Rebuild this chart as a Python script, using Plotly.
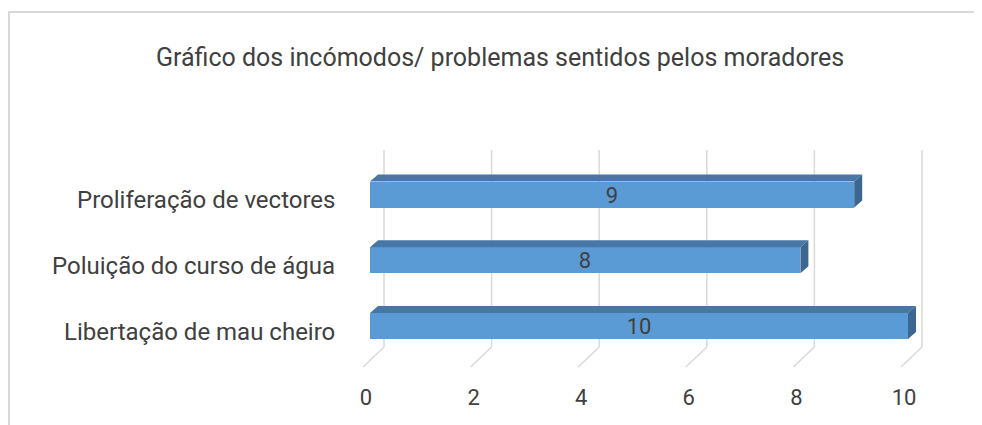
import plotly.graph_objects as go

# ---- data ----
categories = ["Libertação de mau cheiro", "Poluição do curso de água", "Proliferação de vectores"]
values = [10, 8, 9]
x_ticks = [0, 2, 4, 6, 8, 10]
title_text = "Gráfico dos incómodos/ problemas sentidos pelos moradores"

# ---- geometry / style ----
W, H = 982, 425
OFF = 8  # page body margin in browser
FONT = "Roboto"
TXT = "#404040"
GRID = "#d9d9d9"
FRONT = "#5b9bd5"
TOP = "#4677a6"
SIDE = "#3c6792"

px_per_unit_x = 53.8
x0_px = 370 - OFF
dom_x = (300 - OFF, 950 - OFF)
xr = [(dom_x[0] - x0_px) / px_per_unit_x, (dom_x[1] - x0_px) / px_per_unit_x]

px_per_cat = 65.75
c0_py = 326 - OFF
dom_y = (140 - OFF, 382 - OFF)  # top, bottom in px
yr = [(c0_py - dom_y[1]) / px_per_cat, (c0_py - dom_y[0]) / px_per_cat]

bar_w = 26 / px_per_cat
dx = 8 / px_per_unit_x
dy = 7 / px_per_cat

def py2paper(py):
    return 1 - (py - OFF) / H

def px2paper(px):
    return max(0.0, (px - OFF) / W)

idx = list(range(len(categories)))

fig = go.Figure()

# front faces
fig.add_trace(go.Bar(
    x=values, y=idx, orientation="h", width=bar_w,
    marker=dict(color=FRONT, line=dict(width=0)),
    text=[str(v) for v in values], textposition="inside", textangle=0,
    insidetextanchor="middle", constraintext="none",
    textfont=dict(family=FONT, size=22, color=TXT),
    hoverinfo="skip", showlegend=False,
))

# top and side faces
top_x, top_y, side_x, side_y = [], [], [], []
h = bar_w / 2
for c, v in zip(idx, values):
    top_x += [0, dx, v + dx, v, 0, None]
    top_y += [c + h, c + h + dy, c + h + dy, c + h, c + h, None]
    side_x += [v, v, v + dx, v + dx, v, None]
    side_y += [c - h, c + h, c + h + dy, c - h + dy, c - h, None]

fig.add_trace(go.Scatter(x=top_x, y=top_y, fill="toself", fillcolor=TOP, mode="lines",
                         line=dict(width=0, color=TOP), hoverinfo="skip", showlegend=False))
fig.add_trace(go.Scatter(x=side_x, y=side_y, fill="toself", fillcolor=SIDE, mode="lines",
                         line=dict(width=0, color=SIDE), hoverinfo="skip", showlegend=False))

# back-plane gridlines and floor diagonals
shapes = []
back_off = 14
floor_dx = -21
grid_top, grid_bot, floor_front = 150, 347, 367
for t in x_ticks:
    shapes.append(dict(type="line", xref="x", xsizemode="pixel", xanchor=t,
                       x0=back_off, x1=back_off, yref="paper",
                       y0=py2paper(grid_bot), y1=py2paper(grid_top),
                       line=dict(color=GRID, width=1.5), layer="below"))
    shapes.append(dict(type="line", xref="x", xsizemode="pixel", xanchor=t,
                       x0=back_off, x1=back_off + floor_dx, yref="paper",
                       y0=py2paper(grid_bot), y1=py2paper(floor_front),
                       line=dict(color=GRID, width=1.5), layer="below"))

# chart border (top and left edges visible)
shapes.append(dict(type="line", xref="paper", yref="paper",
                   x0=px2paper(6), x1=1.0, y0=py2paper(12), y1=py2paper(12),
                   line=dict(color=GRID, width=2)))
shapes.append(dict(type="line", xref="paper", yref="paper",
                   x0=0.001, x1=0.001, y0=py2paper(12), y1=0,
                   line=dict(color=GRID, width=2)))

# category labels
annotations = []
for c, name in zip(idx, categories):
    annotations.append(dict(text=name, xref="x", x=0, xanchor="right", xshift=-33,
                            yref="y", y=c, yshift=-6, yanchor="middle", showarrow=False,
                            font=dict(family=FONT, size=24, color=TXT)))

fig.update_layout(
    width=W, height=H,
    margin=dict(l=0, r=0, t=0, b=0),
    paper_bgcolor="white", plot_bgcolor="rgba(0,0,0,0)",
    template="none",
    title=dict(text=title_text, x=(500 - OFF) / W, xanchor="center",
               y=1 - (57 - OFF) / H, yanchor="middle",
               yref="container", xref="container",
               font=dict(family=FONT, size=25, color=TXT)),
    xaxis=dict(domain=[px2paper(dom_x[0] + OFF), px2paper(dom_x[1] + OFF)], range=xr,
               tickvals=x_ticks, ticktext=[str(t) for t in x_ticks],
               showgrid=False, zeroline=False, showline=False, ticks="",
               ticklabelshift=-4, automargin=False,
               tickfont=dict(family=FONT, size=22, color=TXT)),
    yaxis=dict(domain=[py2paper(dom_y[1] + OFF), py2paper(dom_y[0] + OFF)], range=yr,
               showgrid=False, zeroline=False, showline=False, ticks="",
               showticklabels=False, automargin=False),
    shapes=shapes, annotations=annotations,
    bargap=0, showlegend=False,
)

fig.write_html("out.html")
